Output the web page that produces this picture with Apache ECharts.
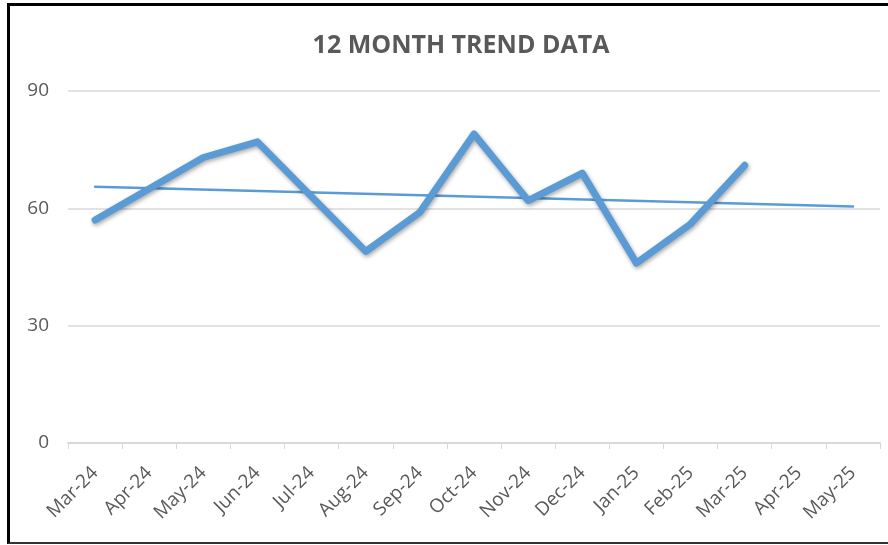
<!DOCTYPE html>
<html>
<head>
<meta charset="utf-8">
<script src="https://cdn.jsdelivr.net/npm/echarts@6/dist/echarts.min.js"></script>
<style>
  html, body { margin: 0; padding: 0; background: #fff; overflow: hidden; }
  #frame { position: absolute; left: 7px; top: 3px; width: 900px; height: 536px;
           border-left: 3px solid #000; border-top: 3px solid #000; border-bottom: 2px solid #333; }
  #chart { position: absolute; left: 0; top: 0; width: 888px; height: 545px; }
</style>
</head>
<body>
<div id="frame"></div>
<div id="chart"></div>
<script>
const categories = ['Mar-24','Apr-24','May-24','Jun-24','Jul-24','Aug-24','Sep-24','Oct-24','Nov-24','Dec-24','Jan-25','Feb-25','Mar-25','Apr-25','May-25'];
const values = [57, 65, 73, 77, 63, 49, 59, 79, 62, 69, 46, 56, 71, null, null];
// linear trendline endpoints (first and last category)
const trendEnds = [65.5, 60.5];
const yTicks = [0, 30, 60, 90];

const trendData = categories.map((c, i) => i === 0 ? trendEnds[0] : (i === categories.length - 1 ? trendEnds[1] : null));

const chart = echarts.init(document.getElementById('chart'));
const txt = '#595959';
chart.setOption({
  animation: false,
  backgroundColor: 'transparent',
  title: {
    text: '12 MONTH TREND DATA',
    left: 456, top: 28, textAlign: 'center',
    textStyle: { fontFamily: 'Open Sans', fontWeight: 'bold', fontSize: 25, color: txt }
  },
  grid: { left: 68, right: 8, top: 91, bottom: 102 },
  xAxis: {
    type: 'category',
    data: categories,
    boundaryGap: true,
    axisLine: { lineStyle: { color: '#d9d9d9', width: 2 } },
    axisTick: { show: true, length: 6, lineStyle: { color: '#d9d9d9', width: 1 } },
    axisLabel: { rotate: 45, interval: 0, fontFamily: 'Open Sans', fontSize: 19, color: txt, margin: 27 }
  },
  yAxis: {
    type: 'value',
    min: yTicks[0], max: yTicks[yTicks.length - 1], interval: 30,
    axisLine: { show: false },
    axisTick: { show: false },
    splitLine: { lineStyle: { color: '#d9d9d9', width: 1.5 } },
    axisLabel: { fontFamily: 'Open Sans', fontSize: 19, color: txt, margin: 19 }
  },
  series: [
    {
      type: 'line',
      data: values,
      symbol: 'none',
      lineStyle: { color: '#5b9bd5', width: 7, cap: 'round', join: 'round',
        shadowColor: 'rgba(0,0,0,0.35)', shadowBlur: 4, shadowOffsetX: 1, shadowOffsetY: 2 },
      z: 3
    },
    {
      type: 'line',
      data: trendData,
      connectNulls: true,
      symbol: 'none',
      lineStyle: { color: '#5b9bd5', width: 2.5, cap: 'round' },
      z: 2
    }
  ]
});
</script>
</body>
</html>
